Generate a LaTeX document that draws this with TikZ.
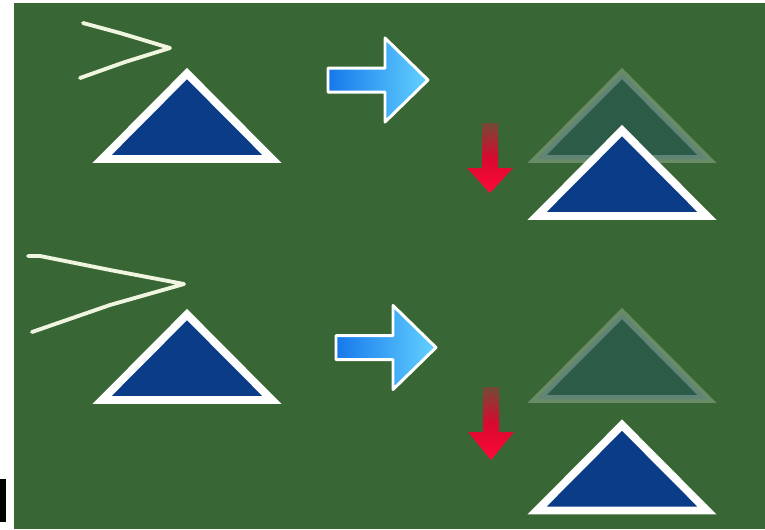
\documentclass[tikz,border=0pt]{standalone}
\usepackage{tikz}

\definecolor{bggreen}{RGB}{56,102,52}
\definecolor{triblue}{RGB}{10,60,135}
\definecolor{chalkwhite}{RGB}{240,245,224}
\definecolor{arrblue}{RGB}{22,120,235}
\definecolor{arrcyan}{RGB}{100,210,255}
\definecolor{arrred}{RGB}{255,10,55}

\begin{document}
\begin{tikzpicture}[
  x=0.02cm, y=-0.02cm,
  tri/.style={draw=white, line width=4.5pt, fill=triblue},
  ghost/.style={tri, opacity=0.25},
  chalk/.style={draw=chalkwhite, line width=2.2pt, line join=round, line cap=round},
  bluearr/.style={draw=white, line width=1.7pt, line join=round, left color=arrblue, right color=arrcyan},
  redarr/.style={top color=bggreen!70!arrred, bottom color=arrred, middle color=arrred!85!black}
]
% page and background
\useasboundingbox (0,0) rectangle (765,529);
\fill[white] (0,0) rectangle (765,529);
\fill[bggreen] (14,3) rectangle (765,529);
\fill[black] (0,479) rectangle (6,522);

% chalk strokes
\draw[chalk] (83,23) -- (120,33) -- (170,48) -- (125,62) -- (80,78);
\draw[chalk] (28,256) -- (40,256) -- (110,270) -- (184,284) -- (110,305) -- (32,332);

% triangles: apex x/apex y/style
\foreach \x/\y/\s in {187/73.5/tri, 187/314.5/tri, 622/73.5/ghost, 622/130.5/tri, 622/313.5/ghost, 622/425/tri}
  \draw[\s] (\x,\y) -- ++(85,85.5) -- ++(-170,0) -- cycle;

% blue arrows
\foreach \x/\y in {328/80, 336/347.5}
  \path[bluearr] (\x,{\y-12}) -- ++(57,0) -- ++(0,-30) -- ({\x+100},\y)
    -- ({\x+57},{\y+42}) -- ++(0,-30) -- (\x,{\y+12}) -- cycle;

% red arrows: centre x/top y/head top/tip
\foreach \x/\y/\h/\t in {490/123/168/193, 491/387/432/460}
  \shade[redarr] ({\x-8},\y) -- ({\x+8},\y) -- ({\x+8},\h) -- ({\x+23},\h)
    -- (\x,\t) -- ({\x-23},\h) -- ({\x-8},\h) -- cycle;
\end{tikzpicture}
\end{document}
